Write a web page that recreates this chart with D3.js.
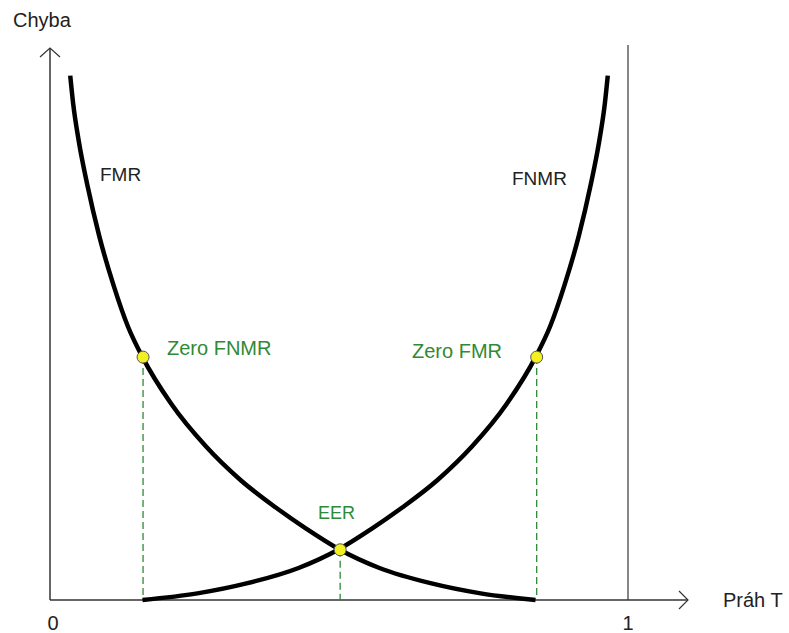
<!DOCTYPE html>
<html lang="cs">
<head>
  <meta charset="UTF-8">
  <script src="https://cdn.jsdelivr.net/npm/d3@7"></script>
  <title>FMR / FNMR</title>
  <style>
    body { margin: 0; background: #fff; }
    text { font-family: 'Liberation Sans', Arial, sans-serif; }
  </style>
</head>
<body>
  <svg id="chart" width="789" height="633"></svg>
  <script>
    // values (threshold T, error)
    const fmrT = [0.035, 0.04, 0.05, 0.065, 0.085, 0.11, 0.135, 0.16, 0.21, 0.27, 0.33, 0.39, 0.445, 0.5, 0.57, 0.66, 0.745, 0.84];
    const fmrE = [0.95, 0.90, 0.83, 0.75, 0.66, 0.57, 0.495, 0.44, 0.355, 0.278, 0.217, 0.168, 0.128, 0.092, 0.058, 0.030, 0.012, 0];
    const fnmrT = [0.16, 0.255, 0.34, 0.43, 0.5, 0.555, 0.61, 0.67, 0.73, 0.79, 0.84, 0.865, 0.89, 0.915, 0.935, 0.95, 0.96, 0.965];
    const fnmrE = [0, 0.012, 0.030, 0.058, 0.092, 0.128, 0.168, 0.217, 0.278, 0.355, 0.44, 0.495, 0.57, 0.66, 0.75, 0.83, 0.90, 0.95];

    const markNames = ["Zero FNMR", "EER", "Zero FMR"];
    const markT = [0.161, 0.502, 0.842];
    const markE = [0.44, 0.091, 0.44];

    const tickValues = [0, 1];
    const tickLabels = ["0", "1"];

    const svg = d3.select("#chart");
    const x = d3.scaleLinear().domain([0, 1]).range([50, 628]);
    const y = d3.scaleLinear().domain([0, 1]).range([600, 48]);

    const axisColor = "#333";
    const green = "#2f8a36";

    // right boundary line at T = 1
    svg.append("line")
      .attr("x1", x(1)).attr("x2", x(1))
      .attr("y1", y(1) - 3).attr("y2", y(0))
      .attr("stroke", "#444").attr("stroke-width", 1.3);

    // axes with open arrow heads
    svg.append("line")
      .attr("x1", x(0)).attr("x2", x(0))
      .attr("y1", y(0)).attr("y2", y(1))
      .attr("stroke", axisColor).attr("stroke-width", 1.5);
    svg.append("path")
      .attr("d", `M${x(0) - 10},${y(1) + 9}L${x(0)},${y(1)}L${x(0) + 10},${y(1) + 9}`)
      .attr("fill", "none").attr("stroke", axisColor).attr("stroke-width", 1.2);

    const xEnd = 688;
    svg.append("line")
      .attr("x1", x(0)).attr("x2", xEnd)
      .attr("y1", y(0)).attr("y2", y(0))
      .attr("stroke", axisColor).attr("stroke-width", 1.5);
    svg.append("path")
      .attr("d", `M${xEnd - 9},${y(0) - 9}L${xEnd},${y(0)}L${xEnd - 9},${y(0) + 9}`)
      .attr("fill", "none").attr("stroke", axisColor).attr("stroke-width", 1.2);

    svg.selectAll("text.tick")
      .data(tickValues).enter().append("text").attr("class", "tick")
      .attr("x", (d, i) => x(d) + (i === 0 ? 3 : 0))
      .attr("y", 630)
      .attr("text-anchor", "middle")
      .attr("font-size", 20)
      .attr("fill", "#222")
      .text((d, i) => tickLabels[i]);

    svg.append("text").attr("x", 13).attr("y", 27)
      .attr("font-size", 20).attr("fill", "#222").text("Chyba");
    svg.append("text").attr("x", 723).attr("y", 607)
      .attr("font-size", 20).attr("fill", "#222").text("Práh T");

    // dashed drop lines
    svg.selectAll("line.drop")
      .data(markT).enter().append("line").attr("class", "drop")
      .attr("x1", d => x(d)).attr("x2", d => x(d))
      .attr("y1", (d, i) => y(markE[i])).attr("y2", y(0))
      .attr("stroke", green).attr("stroke-width", 1.3)
      .attr("stroke-dasharray", "7,4");

    // curves
    const line = d3.line().x(d => x(d[0])).y(d => y(d[1])).curve(d3.curveMonotoneX);
    svg.append("path")
      .datum(d3.zip(fmrT, fmrE))
      .attr("d", line)
      .attr("fill", "none").attr("stroke", "#000").attr("stroke-width", 4.5);
    svg.append("path")
      .datum(d3.zip(fnmrT, fnmrE))
      .attr("d", line)
      .attr("fill", "none").attr("stroke", "#000").attr("stroke-width", 4.5);

    // marked points
    svg.selectAll("circle.mark")
      .data(markT).enter().append("circle").attr("class", "mark")
      .attr("cx", d => x(d))
      .attr("cy", (d, i) => y(markE[i]))
      .attr("r", 6)
      .attr("fill", "#f2f020").attr("stroke", "#555").attr("stroke-width", 1);

    // curve names
    svg.append("text").attr("x", 100).attr("y", 181)
      .attr("font-size", 19).attr("fill", "#222").text("FMR");
    svg.append("text").attr("x", 512).attr("y", 185)
      .attr("font-size", 19).attr("fill", "#222").text("FNMR");

    // green point labels
    const labelPos = [[167, 355], [318, 519], [412, 358]];
    svg.selectAll("text.mark")
      .data(markNames).enter().append("text").attr("class", "mark")
      .attr("x", (d, i) => labelPos[i][0])
      .attr("y", (d, i) => labelPos[i][1])
      .attr("font-size", (d, i) => i === 1 ? 18 : 20)
      .attr("fill", green)
      .text(d => d);
  </script>
</body>
</html>
